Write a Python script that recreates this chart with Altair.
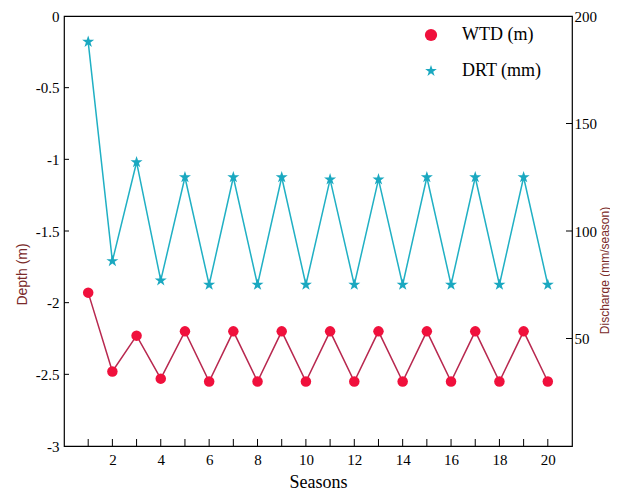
import altair as alt
import pandas as pd

seasons = list(range(1, 21))
wtd = [-1.93, -2.48, -2.23, -2.53, -2.20, -2.55, -2.20, -2.55, -2.20, -2.55,
       -2.20, -2.55, -2.20, -2.55, -2.20, -2.55, -2.20, -2.55, -2.20, -2.55]
drt = [188, 86, 132, 77, 125, 75, 125, 75, 125, 75,
       124, 75, 124, 75, 125, 75, 125, 75, 125, 75]
series_names = ["WTD (m)", "DRT (mm)"]
x_labels = [2, 4, 6, 8, 10, 12, 14, 16, 18, 20]
x_ticks = list(range(1, 21))
left_labels = [0, -0.5, -1, -1.5, -2, -2.5, -3]
left_ticks = [-0.5, -1, -1.5, -2, -2.5]
right_labels = [50, 100, 150, 200]
right_ticks = [50, 100, 150]

W, H = 508, 430
SERIF = "Liberation Serif"

df_w = pd.DataFrame({"season": seasons, "value": wtd, "series": series_names[0]})
df_d = pd.DataFrame({"season": seasons, "value": drt, "series": series_names[1]})
df_xt = pd.DataFrame({"season": x_ticks})
df_lt = pd.DataFrame({"value": left_ticks})
df_rt = pd.DataFrame({"value": right_ticks})

star = ("M0,-1L0.2245,-0.309L0.951,-0.309L0.363,0.118L0.588,0.809L0,0.382"
        "L-0.588,0.809L-0.363,0.118L-0.951,-0.309L-0.2245,-0.309Z")

xs = alt.Scale(domain=[0, 21], nice=False)
xaxis = alt.Axis(values=x_labels, ticks=False, domain=False, grid=False,
                 labelFont=SERIF, labelFontSize=15, labelPadding=6,
                 labelColor="black", title="Seasons", titleFont=SERIF,
                 titleFontSize=18, titleFontWeight="normal", titleColor="black",
                 titlePadding=6)
X = alt.X("season:Q", scale=xs, axis=xaxis)

ls = alt.Scale(domain=[-3, 0], nice=False)
laxis = alt.Axis(values=left_labels, ticks=False, domain=False, grid=False,
                 orient="left", labelFont=SERIF, labelFontSize=15,
                 labelPadding=5, labelColor="black",
                 labelExpr="datum.value + ''", title="Depth (m)",
                 titleFont="Liberation Sans", titleFontSize=14,
                 titleFontWeight="normal", titleColor="#7a2a2a",
                 titleBaseline="middle", titleX=-42, titleY=258)
YL = alt.Y("value:Q", scale=ls, axis=laxis)

rs = alt.Scale(domain=[0, 200], nice=False)
raxis = alt.Axis(values=right_labels, ticks=False, domain=False, grid=False,
                 orient="right", labelFont=SERIF, labelFontSize=15,
                 labelPadding=2, labelColor="black",
                 labelExpr="datum.value + ''",
                 title="Discharge  (mm/season)", titleFont="Liberation Sans",
                 titleFontSize=12, titleFontWeight="normal",
                 titleColor="#7a2a2a", titleAngle=270, titleBaseline="middle",
                 titleX=32, titleY=254)
YR = alt.Y("value:Q", scale=rs, axis=raxis)

color = alt.Color("series:N",
                  scale=alt.Scale(domain=series_names, range=["#f0103c", "#1aa8c0"]),
                  legend=alt.Legend(title=None, orient="none", legendX=358,
                                    legendY=10, labelFont=SERIF,
                                    labelFontSize=18, labelColor="black",
                                    symbolSize=150, labelOffset=22,
                                    rowPadding=18, padding=0,
                                    symbolStrokeWidth=1))
shape = alt.Shape("series:N",
                  scale=alt.Scale(domain=series_names, range=["circle", star]),
                  legend=None)

w_line = alt.Chart(df_w).mark_line(color="#b8284f", strokeWidth=1.5).encode(x=X, y=YL)
w_pts = alt.Chart(df_w).mark_point(filled=True, size=110, opacity=1).encode(
    x=X, y=YL, color=color, shape=shape)
lt = alt.Chart(df_lt).mark_rule(color="black", strokeWidth=1).encode(
    y=YL, x=alt.value(0), x2=alt.value(5))
xt = alt.Chart(df_xt).mark_rule(color="black", strokeWidth=1).encode(
    x=X, y=alt.value(H), y2=alt.value(H - 7))

d_line = alt.Chart(df_d).mark_line(color="#20b0c4", strokeWidth=1.5).encode(x=X, y=YR)
d_pts = alt.Chart(df_d).mark_point(filled=True, size=160, opacity=1).encode(
    x=X, y=YR, color=color, shape=shape)
rt = alt.Chart(df_rt).mark_rule(color="black", strokeWidth=1).encode(
    y=YR, x=alt.value(W), x2=alt.value(W - 6))

left = alt.layer(w_line, lt, xt, w_pts)
right = alt.layer(d_line, rt, d_pts)

chart = alt.layer(left, right).resolve_scale(y="independent").properties(
    width=W, height=H,
    autosize=alt.AutoSizeParams(type="none"),
    padding={"left": 56, "top": 8, "right": 38, "bottom": 46},
    background="white",
).configure_view(stroke="black", strokeWidth=1.2)

chart.save("out.html", embed_options={"renderer": "svg", "actions": False})
